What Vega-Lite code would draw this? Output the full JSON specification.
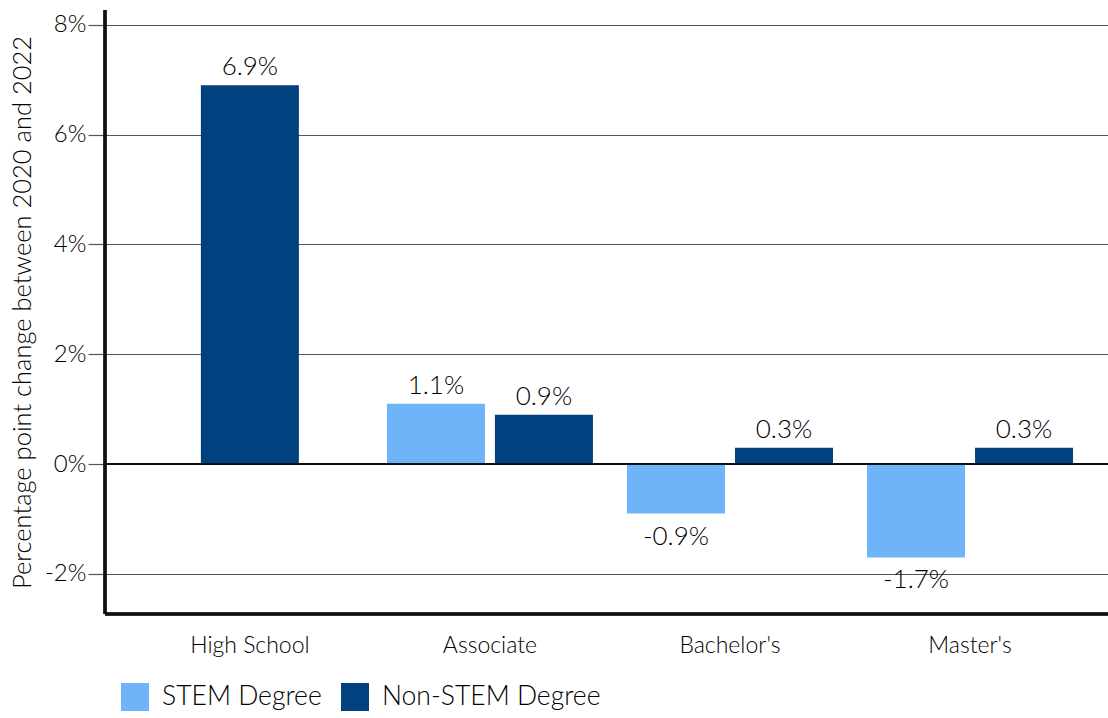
{
  "$schema": "https://vega.github.io/schema/vega-lite/v6.json",
  "width": 1003,
  "height": 604,
  "autosize": "none",
  "padding": {"left": 105, "top": 10, "right": 0, "bottom": 104},
  "background": "white",
  "config": {
    "font": "Lato",
    "view": {"stroke": null},
    "axis": {"labelFont": "Lato", "titleFont": "Lato", "labelColor": "#000000", "titleColor": "#000000", "labelFontWeight": 300, "titleFontWeight": 300}
  },
  "data": {
    "values": [
      {"level": "High School", "degree": "Non-STEM Degree", "change": 6.9},
      {"level": "Associate", "degree": "STEM Degree", "change": 1.1},
      {"level": "Associate", "degree": "Non-STEM Degree", "change": 0.9},
      {"level": "Bachelor's", "degree": "STEM Degree", "change": -0.9},
      {"level": "Bachelor's", "degree": "Non-STEM Degree", "change": 0.3},
      {"level": "Master's", "degree": "STEM Degree", "change": -1.7},
      {"level": "Master's", "degree": "Non-STEM Degree", "change": 0.3}
    ]
  },
  "transform": [
    {"calculate": "datum.change + '%'", "as": "label"}
  ],
  "encoding": {
    "x": {
      "field": "level",
      "type": "nominal",
      "sort": ["High School", "Associate", "Bachelor's", "Master's"],
      "scale": {"paddingInner": 0.1417, "paddingOuter": 0.16, "align": 0.545},
      "axis": {
        "title": null,
        "labelAngle": 0,
        "labelFontSize": 23,
        "labelPadding": 20,
        "ticks": false,
        "domain": false,
        "grid": false
      }
    },
    "y": {
      "field": "change",
      "type": "quantitative",
      "scale": {"domain": [-2.73, 8.27], "nice": false, "zero": false},
      "axis": {
        "values": [-2, 0, 2, 4, 6, 8],
        "labelExpr": "datum.value + '%'",
        "labelFontSize": 24,
        "labelPadding": 2,
        "tickSize": 17,
        "tickColor": "#555555",
        "tickWidth": 1.2,
        "grid": true,
        "gridColor": "#555555",
        "gridWidth": 1.2,
        "domain": false,
        "title": "Percentage point change between 2020 and 2022",
        "titleFontSize": 25.5,
        "titlePadding": 9
      }
    }
  },
  "layer": [
    {
      "transform": [{"filter": "datum.level !== 'High School'"}],
      "mark": {"type": "bar"},
      "encoding": {
        "xOffset": {
          "field": "degree",
          "type": "nominal",
          "sort": ["STEM Degree", "Non-STEM Degree"],
          "scale": {"paddingInner": 0.0926, "paddingOuter": 0}
        },
        "color": {
          "field": "degree",
          "type": "nominal",
          "scale": {"domain": ["STEM Degree", "Non-STEM Degree"], "range": ["#6FB3F8", "#01417F"]},
          "legend": {
            "title": null,
            "orient": "none",
            "direction": "horizontal",
            "legendX": 16,
            "legendY": 673,
            "symbolType": "square",
            "symbolSize": 784,
            "symbolStrokeWidth": 0,
            "labelFontSize": 26.5,
            "labelFont": "Lato",
            "labelFontWeight": 300,
            "labelColor": "#000000",
            "labelOffset": 13,
            "labelLimit": 0,
            "columnPadding": 19
          }
        }
      }
    },
    {
      "transform": [{"filter": "datum.level === 'High School'"}],
      "mark": {"type": "bar", "width": 98},
      "encoding": {
        "color": {"field": "degree", "type": "nominal"}
      }
    },
    {
      "transform": [{"filter": "datum.level !== 'High School' && datum.change >= 0"}],
      "mark": {"type": "text", "baseline": "alphabetic", "dy": -10, "fontSize": 26, "fontWeight": 300, "color": "#000000"},
      "encoding": {
        "xOffset": {"field": "degree", "type": "nominal", "sort": ["STEM Degree", "Non-STEM Degree"]},
        "text": {"field": "label"}
      }
    },
    {
      "transform": [{"filter": "datum.level !== 'High School' && datum.change < 0"}],
      "mark": {"type": "text", "baseline": "top", "dy": 10, "fontSize": 26, "fontWeight": 300, "color": "#000000"},
      "encoding": {
        "xOffset": {"field": "degree", "type": "nominal", "sort": ["STEM Degree", "Non-STEM Degree"]},
        "text": {"field": "label"}
      }
    },
    {
      "transform": [{"filter": "datum.level === 'High School'"}],
      "mark": {"type": "text", "baseline": "alphabetic", "dy": -10, "fontSize": 26, "fontWeight": 300, "color": "#000000"},
      "encoding": {
        "text": {"field": "label"}
      }
    },
    {
      "mark": {"type": "rule", "color": "#111111", "strokeWidth": 1.5},
      "encoding": {"y": {"datum": 0}, "x": null}
    },
    {
      "mark": {"type": "rule", "color": "#111111", "strokeWidth": 2.5},
      "encoding": {"y": {"datum": -2.73}, "x": null}
    },
    {
      "mark": {"type": "rule", "color": "#111111", "strokeWidth": 2.5},
      "encoding": {"x": {"value": 0}, "y": {"value": 0}, "y2": {"value": 604}}
    }
  ]
}
